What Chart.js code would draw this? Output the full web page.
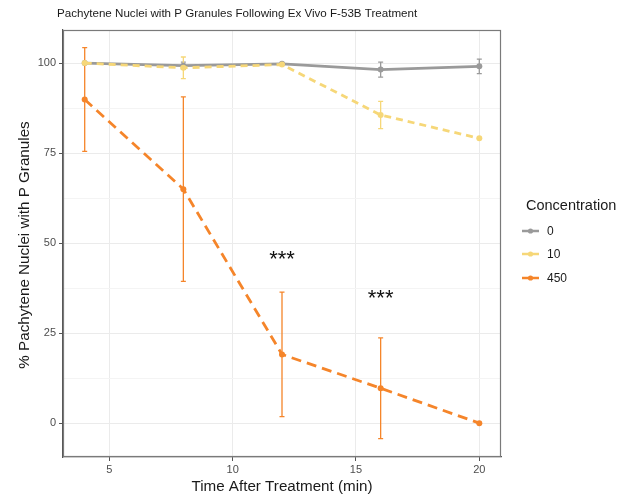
<!DOCTYPE html>
<html>
<head>
<meta charset="utf-8">
<script src="https://cdn.jsdelivr.net/npm/chart.js"></script>
<style>
html,body{margin:0;padding:0;background:#fff;}
#wrap{position:relative;width:627px;height:499px;}
</style>
</head>
<body>
<div id="wrap"><canvas id="c" width="627" height="499"></canvas></div>
<script>
// ---- data ----
const chartTitle = 'Pachytene Nuclei with P Granules Following Ex Vivo F-53B Treatment';
const xTitle = 'Time After Treatment (min)';
const yTitle = '% Pachytene Nuclei with P Granules';
const legendTitle = 'Concentration';
const seriesNames = ['0', '10', '450'];
const timePoints = [4, 8, 12, 16, 20];
const mean0 = [100, 99.3, 99.8, 98.2, 99.1];
const err0 = [0, 1.0, 0, 2.1, 2.0];
const mean10 = [100, 98.7, 99.6, 85.6, 79.1];
const err10 = [0, 3.0, 0, 3.8, 0];
const mean450 = [89.9, 65.0, 19.1, 9.7, 0];
const err450 = [14.4, 25.6, 17.3, 14.0, 0];
const xTicks = [5, 10, 15, 20];
const yTicks = [0, 25, 50, 75, 100];
const yMinorTicks = [12.5, 37.5, 62.5, 87.5];
const starX = [12, 16];
const starY = [46.1, 35.1];
const starText = ['***', '***'];

const colors = ['#9a9a9a', '#F6D778', '#F5852A'];
const FONT = '"Liberation Sans", Arial, sans-serif';

const means = [mean0, mean10, mean450];
const errs = [err0, err10, err450];

const datasets = means.map((m, i) => ({
  label: seriesNames[i],
  data: timePoints.map((t, j) => ({x: t, y: m[j]})),
  borderColor: colors[i],
  backgroundColor: colors[i],
  borderWidth: 2.8,
  borderDash: i === 0 ? [] : (i === 1 ? [7, 5] : [10, 6]),
  pointRadius: 3,
  pointBorderWidth: 0,
  pointHoverRadius: 3,
  order: 2 - i,
  tension: 0,
  fill: false
}));

const decor = {
  id: 'decor',
  beforeDatasetsDraw(chart) {
    const ctx = chart.ctx, xs = chart.scales.x, ys = chart.scales.y;
    ctx.save();
    errs.forEach((e, i) => {
      ctx.strokeStyle = colors[i];
      ctx.lineWidth = 1.3;
      timePoints.forEach((t, j) => {
        if (!e[j]) return;
        const px = xs.getPixelForValue(t);
        const top = ys.getPixelForValue(means[i][j] + e[j]);
        const bot = ys.getPixelForValue(means[i][j] - e[j]);
        const hw = 2.5;
        ctx.beginPath();
        ctx.moveTo(px, top); ctx.lineTo(px, bot);
        ctx.moveTo(px - hw, top); ctx.lineTo(px + hw, top);
        ctx.moveTo(px - hw, bot); ctx.lineTo(px + hw, bot);
        ctx.stroke();
      });
    });
    ctx.restore();
  },
  afterDraw(chart) {
    const ctx = chart.ctx, a = chart.chartArea, xs = chart.scales.x, ys = chart.scales.y;
    ctx.save();
    ctx.strokeStyle = '#7a7a7a';
    ctx.lineWidth = 1.2;
    ctx.strokeRect(a.left + 0.5, a.top + 0.5, a.right - a.left - 1, a.bottom - a.top - 1);
    // stars
    ctx.fillStyle = '#111';
    ctx.font = '22px ' + FONT;
    ctx.textAlign = 'center';
    ctx.textBaseline = 'alphabetic';
    starX.forEach((sx, i) => {
      ctx.fillText(starText[i], xs.getPixelForValue(sx), ys.getPixelForValue(starY[i]) + 8.6);
    });
    ctx.textBaseline = 'middle';
    // title
    ctx.fillStyle = '#1a1a1a';
    ctx.font = '11.6px ' + FONT;
    ctx.textAlign = 'left';
    ctx.fillText(chartTitle, 57, 14);
    // axis titles
    ctx.font = '15.2px ' + FONT;
    ctx.textAlign = 'center';
    ctx.fillText(xTitle, (a.left + a.right) / 2, 487);
    ctx.save();
    ctx.translate(25, 245);
    ctx.rotate(-Math.PI / 2);
    ctx.fillText(yTitle, 0, 0);
    ctx.restore();
    // legend
    ctx.textAlign = 'left';
    ctx.font = '14.5px ' + FONT;
    ctx.fillText(legendTitle, 526, 206);
    const ly = [231, 254, 278];
    seriesNames.forEach((n, i) => {
      ctx.strokeStyle = colors[i];
      ctx.lineWidth = 2.5;
      ctx.beginPath();
      ctx.moveTo(522, ly[i]); ctx.lineTo(539, ly[i]);
      ctx.stroke();
      ctx.fillStyle = colors[i];
      ctx.beginPath();
      ctx.arc(530.5, ly[i], 2.6, 0, Math.PI * 2);
      ctx.fill();
      ctx.fillStyle = '#1a1a1a';
      ctx.font = '12px ' + FONT;
      ctx.fillText(n, 547, ly[i] + 1);
    });
    ctx.restore();
  }
};

const tickFont = {family: FONT, size: 11};

new Chart(document.getElementById('c'), {
  type: 'line',
  data: {datasets},
  options: {
    responsive: false,
    animation: false,
    devicePixelRatio: 1,
    layout: {padding: {left: 0, right: 126, top: 30, bottom: 0}},
    plugins: {legend: {display: false}, title: {display: false}, tooltip: {enabled: false}},
    scales: {
      x: {
        type: 'linear',
        min: 3.12, max: 20.88,
        afterBuildTicks(s) { s.ticks = xTicks.map(v => ({value: v})); },
        afterFit(s) { s.height = 42; },
        ticks: {font: tickFont, color: '#4d4d4d', padding: 2, maxRotation: 0,
          callback: v => String(v)},
        grid: {color: '#ebebeb', lineWidth: 1, tickLength: 4, tickColor: '#555', drawTicks: true},
        border: {color: '#555', width: 1.2}
      },
      y: {
        type: 'linear',
        min: -9.4, max: 109.2,
        afterBuildTicks(s) {
          s.ticks = yTicks.concat(yMinorTicks).sort((p, q) => p - q).map(v => ({value: v}));
        },
        afterFit(s) { s.width = 63; },
        ticks: {font: tickFont, color: '#4d4d4d', padding: 3,
          callback: v => (yTicks.includes(v) ? String(v) : '')},
        grid: {
          color: c => (yTicks.includes(c.tick.value) ? '#ebebeb' : '#f4f4f4'),
          lineWidth: 1,
          tickLength: 4,
          tickColor: c => (yTicks.includes(c.tick.value) ? '#555' : 'rgba(0,0,0,0)')
        },
        border: {color: '#555', width: 1.2}
      }
    }
  },
  plugins: [decor]
});
</script>
</body>
</html>
